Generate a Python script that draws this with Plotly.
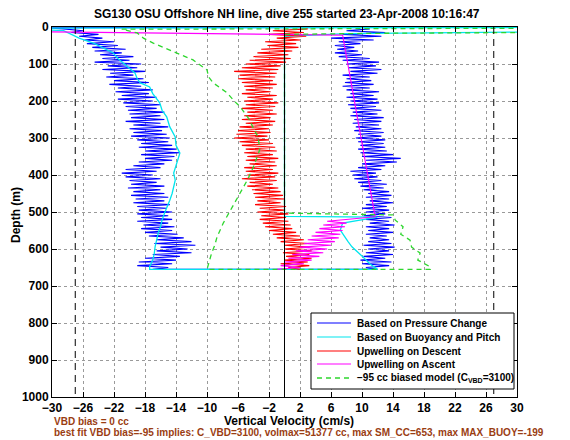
import plotly.graph_objects as go

# ---------------- data ----------------
title = "SG130 OSU Offshore NH line, dive 255 started 23-Apr-2008 10:16:47"
x_ticks = list(range(-30, 31, 4))
y_ticks = list(range(0, 1001, 100))

# sample depths (m) for the noisy pressure-based series, 5 m spacing
desc_depth = list(range(5, 656, 5))          # 5 .. 655 going down
asc_depth = list(range(655, 4, -5))          # 655 .. 5 going up

# Based on pressure change: descent
blue_desc = [-28.5, -26.0, -27.5, -24.0, -26.5, -23.5, -25.8, -22.0, -25.5, -21.5,
             -24.8, -20.5, -24.5, -21.0, -23.8, -19.5, -23.5, -20.0, -24.5, -18.5,
             -22.8, -19.0, -23.5, -18.0, -22.5, -19.5, -23.0, -18.2, -22.0, -17.5,
             -22.6, -18.5, -21.5, -17.0, -21.8, -17.5, -21.0, -16.5, -21.5, -17.0,
             -20.8, -16.0, -20.5, -16.5, -20.2, -15.5, -20.0, -16.0, -19.8, -15.5,
             -20.5, -16.0, -19.5, -15.0, -20.0, -15.8, -19.5, -15.2, -19.8, -14.8,
             -19.0, -15.0, -18.5, -14.5, -18.8, -14.0, -18.0, -13.5, -18.5, -14.2,
             -18.0, -14.5, -18.8, -15.5, -19.5, -16.0, -20.5, -16.5, -21.0, -17.0,
             -20.5, -16.0, -20.0, -16.5, -19.8, -15.5, -20.2, -16.0, -19.5, -15.5,
             -19.8, -15.0, -19.2, -15.5, -19.5, -14.8, -19.0, -15.2, -18.8, -14.5,
             -19.0, -15.0, -18.5, -14.5, -19.0, -15.0, -18.2, -14.2, -18.5, -14.5,
             -18.0, -13.8, -17.5, -13.0, -16.5, -12.0, -16.8, -11.5, -16.0, -12.5,
             -16.5, -12.0, -17.0, -13.5, -18.0, -14.0, -18.8, -14.5, -19.0, -15.0,
             -17.0]
# Based on pressure change: ascent
blue_asc = [12.0, 10.5, 13.5, 10.0, 13.8, 9.8, 13.0, 10.2, 14.0, 10.5,
            13.5, 10.8, 14.2, 10.2, 13.8, 10.8, 13.5, 11.0, 13.2, 10.5,
            14.0, 10.8, 13.5, 10.5, 14.2, 11.0, 13.5, 10.5, 13.8, 10.2,
            13.0, 10.5, 13.5, 10.0, 13.2, 10.5, 14.0, 11.0, 13.5, 10.5,
            13.8, 10.8, 13.5, 10.2, 12.8, 9.8, 13.2, 9.5, 12.5, 9.0,
            12.0, 8.8, 11.8, 8.5, 12.5, 9.5, 13.0, 10.0, 14.5, 10.5,
            15.0, 10.0, 14.0, 9.8, 13.2, 9.5, 13.0, 9.8, 12.8, 9.5,
            13.0, 9.2, 12.5, 9.5, 12.8, 9.0, 12.5, 9.2, 12.2, 8.8,
            12.5, 9.0, 12.8, 8.5, 12.0, 8.8, 12.5, 8.5, 11.8, 8.2,
            12.2, 8.5, 12.0, 8.0, 11.5, 8.5, 12.2, 8.0, 11.0, 7.5,
            11.5, 7.8, 11.2, 8.0, 11.0, 7.5, 12.0, 8.5, 12.5, 8.2,
            11.8, 8.0, 12.2, 7.5, 11.0, 7.0, 10.0, 6.5, 9.5, 6.8,
            9.0, 6.5, 9.8, 7.0, 11.5, 6.0, 12.5, 7.5, 13.0, 8.0,
            11.0]
blue_surf_depth = [0, 2]
blue_surf = [6.0, -31.0]

# Upwelling on descent
red_desc = [3.0, -1.5, 2.5, -2.0, 2.8, -1.0, 2.0, -2.5, 1.5, -2.2,
            1.8, -3.0, 1.0, -3.5, 0.5, -4.0, 0.8, -4.5, 0.2, -5.0,
            -0.5, -5.5, -0.8, -6.5, -1.0, -5.8, -1.2, -6.0, -1.5, -5.5,
            -1.0, -5.2, -1.5, -5.0, -1.8, -5.5, -1.0, -4.8, -1.5, -5.2,
            -0.8, -5.0, -1.2, -5.5, -1.5, -4.8, -1.0, -5.2, -1.8, -5.5,
            -1.2, -5.0, -1.5, -5.8, -2.0, -6.0, -1.8, -6.2, -2.2, -6.5,
            -2.0, -5.8, -1.5, -5.5, -1.2, -5.0, -1.0, -5.2, -1.5, -4.8,
            -0.8, -5.0, -1.2, -4.5, -1.0, -5.2, -1.5, -5.0, -0.8, -4.8,
            -1.2, -5.5, -1.0, -4.5, -1.5, -4.8, -0.8, -4.2, -0.5, -4.0,
            -0.2, -3.8, 0.0, -3.5, -0.5, -3.8, 0.2, -3.2, 0.0, -3.5,
            0.5, -3.0, 0.2, -3.2, 0.5, -2.8, 0.8, -2.5, 1.0, -2.0,
            1.5, -1.5, 2.0, -1.0, 2.5, -0.5, 3.0, 0.0, 3.2, 0.0,
            3.5, -0.2, 3.2, 0.2, 3.5, 0.0, 3.0, -0.5, 3.2, 0.5,
            2.0]

# Upwelling on ascent
mag_depth = [655, 650, 645, 640, 635, 630, 625, 620, 615, 610, 605, 600, 595, 590,
             585, 580, 575, 570, 565, 560, 555, 550, 545, 540, 535, 530, 525, 520,
             513, 22, 12]
mag_vel = [-1.0, 2.0, -0.5, 2.5, 0.0, 3.5, 0.5, 4.5, 1.0, 5.0, 1.5, 5.5, 2.0, 6.0,
           2.5, 6.5, 3.0, 7.0, 3.5, 7.2, 4.0, 7.5, 4.5, 7.8, 5.0, 8.0, 5.5, 8.2,
           11.7, 7.5, -35.0]

# Based on buoyancy and pitch (smooth model)
cyan_depth = [1, 3, 10, 20, 30, 45, 60, 70, 85, 97, 110, 124, 140, 151, 162, 180,
              205, 225, 243, 270, 297, 320, 341, 360, 378, 395, 414, 432, 450, 468,
              486, 504, 522, 540, 557, 575, 594, 612, 630, 648, 655,
              655, 640, 621, 605, 594, 580, 567, 549, 530, 514, 512, 25, 18, 12]
cyan_vel = [40, -35, -28.5, -27.5, -26.5, -24.5, -23.0, -22.1, -21.5, -20.8, -20.0,
            -19.3, -19.0, -18.6, -17.4, -17.0, -16.1, -15.8, -15.2, -14.8, -14.1,
            -14.0, -13.5, -13.8, -14.1, -14.3, -14.1, -14.3, -14.5, -14.8, -15.2,
            -15.5, -15.8, -16.0, -16.3, -16.5, -16.7, -16.8, -17.0, -17.4, -17.4,
            12.0, 11.0, 10.1, 9.3, 8.7, 8.2, 7.8, 7.2, 7.5, 12.0, 0.0, 0.0, 8.0, 40]

# -95 cc biased model
green_depth = [3, 6, 16, 30, 43, 62, 75, 89, 116, 135, 151, 178, 200, 216, 251, 275,
               297, 332, 355, 378, 414, 440, 459, 495, 530, 567, 590, 611, 630, 648,
               655, 655, 648, 630, 611, 595, 576, 560, 540, 522, 508, 503, 20, 17, 14]
green_vel = [40, -21.0, -19.0, -18.2, -17.0, -14.8, -13.5, -11.8, -10.0, -9.8, -9.2,
             -7.4, -6.5, -5.7, -4.5, -4.0, -3.4, -3.2, -3.6, -4.0, -4.8, -5.5, -6.1,
             -7.0, -7.9, -8.7, -9.0, -9.4, -9.7, -9.9, -10.0,
             18.8, 18.8, 17.2, 17.5, 16.4, 16.2, 15.0, 15.3, 14.3, 14.0, 0.0, 0.0,
             12.0, 40]

limit_x = [-27, 27]
zero_x = 0.0
depth_span = [0, 1000]

legend_names = ["Based on Pressure Change", "Based on Buoyancy and Pitch",
                "Upwelling on Descent", "Upwelling on Ascent",
                "\u221295 cc biased model (C<sub>VBD</sub>=3100)"]

note1 = "VBD bias = 0 cc"
note2 = ("best fit VBD bias=-95 implies: C_VBD=3100, volmax=51377 cc, "
         "max SM_CC=653, max MAX_BUOY=-199")

# ---------------- figure ----------------
FONT = "Liberation Sans, Arial, Helvetica, sans-serif"
BLUE = "#0000ff"
CYAN = "#00e5ee"
RED = "#ff0000"
MAG = "#ff00ff"
GREEN = "#2ed62e"
BROWN = "#9a3d12"

# the page body adds an 8 px offset; figure is sized to fill the rest
OFF = 8
W, H = 570 - OFF, 440 - OFF
# plot area in page pixels: x 52..517, y 27..397
PX0, PX1, PY0, PY1 = 52, 517, 27, 397
L, R = PX0 - OFF, W - (PX1 - OFF)
T, B = PY0 - OFF, H - (PY1 - OFF)
PW, PH = PX1 - PX0, PY1 - PY0


def px(xp):
    return (xp - PX0) / PW


def py(yp):
    return (PY1 - yp) / PH


fig = go.Figure()

fig.add_trace(go.Scatter(x=blue_surf + blue_desc + blue_asc,
                         y=blue_surf_depth + desc_depth + asc_depth,
                         mode="lines", line=dict(color=BLUE, width=1.1),
                         name=legend_names[0]))
fig.add_trace(go.Scatter(x=cyan_vel, y=cyan_depth, mode="lines",
                         line=dict(color=CYAN, width=1.3), name=legend_names[1]))
fig.add_trace(go.Scatter(x=red_desc, y=desc_depth, mode="lines",
                         line=dict(color=RED, width=1.1), name=legend_names[2]))
fig.add_trace(go.Scatter(x=mag_vel, y=mag_depth, mode="lines",
                         line=dict(color=MAG, width=1.1), name=legend_names[3]))
fig.add_trace(go.Scatter(x=green_vel, y=green_depth, mode="lines",
                         line=dict(color=GREEN, width=1.3, dash="5px,4px"),
                         name=legend_names[4]))

for xv in limit_x:
    fig.add_trace(go.Scatter(x=[xv, xv], y=depth_span, mode="lines",
                             line=dict(color="black", width=1, dash="7px,5px"),
                             hoverinfo="skip"))
fig.add_trace(go.Scatter(x=[zero_x, zero_x], y=depth_span, mode="lines",
                         line=dict(color="black", width=1), hoverinfo="skip"))

axis_common = dict(
    showline=True, linecolor="black", linewidth=1, mirror="allticks",
    ticks="inside", ticklen=5, tickcolor="black", automargin=False,
    showgrid=True, gridcolor="#9a9a9a", griddash="dot", gridwidth=1,
    zeroline=False,
    tickfont=dict(family=FONT, size=12, color="black", weight="bold"),
)

fig.update_layout(
    width=W, height=H,
    margin=dict(l=L, r=R, t=T, b=B, autoexpand=False),
    paper_bgcolor="white", plot_bgcolor="white",
    font=dict(family=FONT, color="black"),
    showlegend=False,
    xaxis=dict(range=[-30, 30], tickvals=x_ticks,
               ticktext=[str(v).replace("-", "\u2212") for v in x_ticks],
               **axis_common),
    yaxis=dict(range=[1000, 0], tickvals=y_ticks, **axis_common),
)

# title
fig.add_annotation(text=title, xref="paper", yref="paper", x=px(287), y=py(14),
                   showarrow=False, xanchor="center", yanchor="middle",
                   font=dict(family=FONT, size=12, weight="bold", color="black"))
# axis titles
fig.add_annotation(text="Vertical Velocity (cm/s)", xref="paper", yref="paper",
                   x=px(289), y=py(421), showarrow=False,
                   xanchor="center", yanchor="middle",
                   font=dict(family=FONT, size=12, weight="bold", color="black"))
fig.add_annotation(text="Depth (m)", xref="paper", yref="paper", textangle=-90,
                   x=px(16), y=py(215), showarrow=False,
                   xanchor="center", yanchor="middle",
                   font=dict(family=FONT, size=12, weight="bold", color="black"))

# notes
fig.add_annotation(text=note1, xref="paper", yref="paper", x=px(52), y=py(421),
                   xanchor="left", yanchor="middle", showarrow=False,
                   font=dict(family=FONT, size=10, weight="bold", color=BROWN))
fig.add_annotation(text=note2, xref="paper", yref="paper", x=px(52), y=py(433),
                   xanchor="left", yanchor="middle", showarrow=False,
                   font=dict(family=FONT, size=10, weight="bold", color=BROWN))

# legend (drawn as a box in paper coordinates)
fig.add_shape(type="rect", xref="paper", yref="paper",
              x0=px(311), x1=px(514), y0=py(389), y1=py(313),
              line=dict(color="black", width=1), fillcolor="white", layer="above")
leg_styles = [dict(color=BLUE, width=1.2), dict(color=CYAN, width=1.2),
              dict(color=RED, width=1.2), dict(color=MAG, width=1.2),
              dict(color=GREEN, width=1.3, dash="5px,4px")]
leg_rows = [323, 337, 351, 364, 378]
for name, style, row in zip(legend_names, leg_styles, leg_rows):
    fig.add_shape(type="line", xref="paper", yref="paper",
                  x0=px(317), x1=px(351), y0=py(row), y1=py(row),
                  line=style, layer="above")
    fig.add_annotation(text=name, xref="paper", yref="paper", x=px(355), y=py(row),
                       xanchor="left", yanchor="middle", showarrow=False,
                       font=dict(family=FONT, size=10, weight="bold", color="black"))

fig.write_html("out.html")
